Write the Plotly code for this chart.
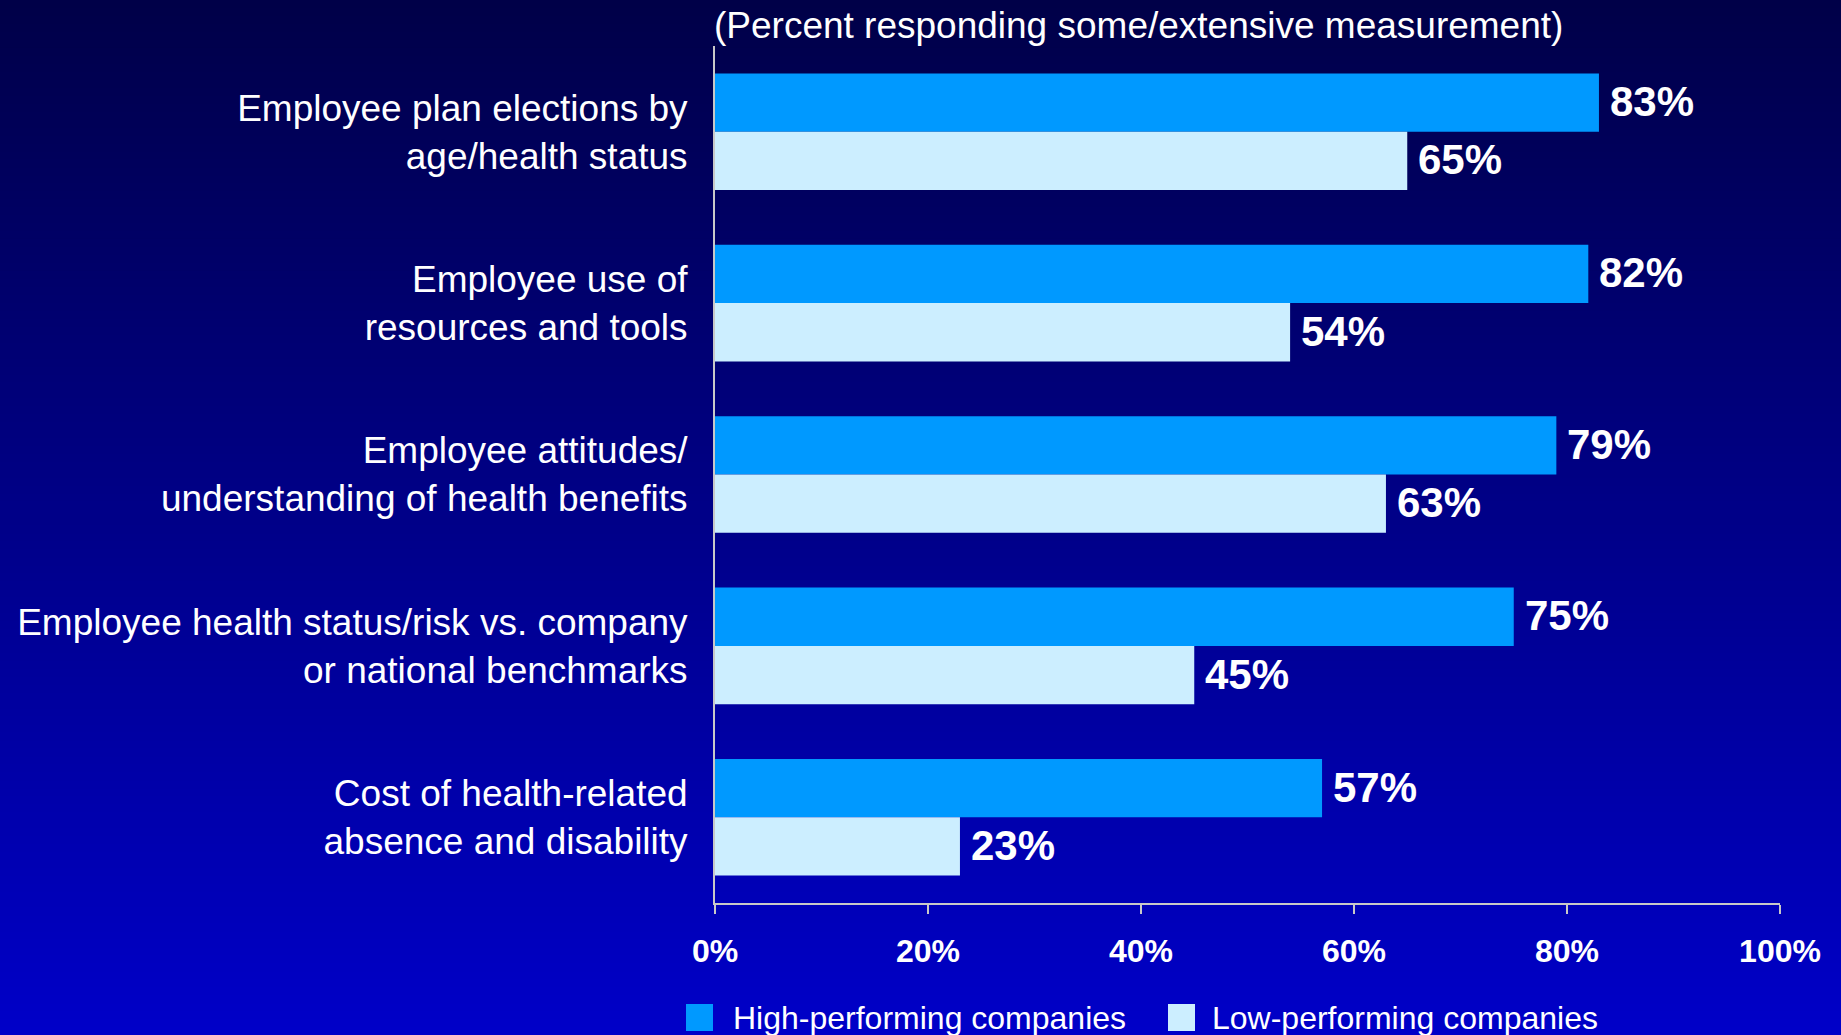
import plotly.graph_objects as go

# Measurement areas (top to bottom) and share of companies measuring each
categories = [
    "Employee plan elections by<br>age/health status",
    "Employee use of<br>resources and tools",
    "Employee attitudes/<br>understanding of health benefits",
    "Employee health status/risk vs. company<br>or national benchmarks",
    "Cost of health-related<br>absence and disability",
]
high_performing = [83, 82, 79, 75, 57]
low_performing = [65, 54, 63, 45, 23]
tick_values = [0, 20, 40, 60, 80, 100]
tick_labels = ["0%", "20%", "40%", "60%", "80%", "100%"]

series_names = ["High-performing companies", "Low-performing companies"]
series_colors = ["#0099FF", "#CCEEFF"]

W, H = 1841, 1035
L, R, T, B = 715, 61, 46, 132
PW, PH = W - L - R, H - T - B
FONT = "Arial, Liberation Sans, sans-serif"
AXIS_GREY = "#C8C8C8"
BARGAP = 0.32


def px_x(px):
    return (px - L) / PW


def px_y(py):
    return (H - B - py) / PH


fig = go.Figure()
for name, vals, col in zip(series_names, [high_performing, low_performing], series_colors):
    fig.add_trace(go.Bar(
        y=categories, x=vals, orientation="h", name=name,
        marker=dict(color=col, line=dict(width=0)),
        showlegend=False, hoverinfo="x+y",
    ))

# value labels just beyond the end of each bar
half = (1 - BARGAP) / 4
annotations = []
for i in range(len(categories)):
    for vals, off in ((high_performing, -half), (low_performing, half)):
        annotations.append(dict(
            x=vals[i], y=i + off, xref="x", yref="y",
            text=f"<b>{vals[i]}%</b>", showarrow=False,
            xanchor="left", yanchor="middle", xshift=9, yshift=1,
            font=dict(family=FONT, size=42, color="white"),
        ))

# subtitle above the plot
annotations.append(dict(
    x=0, y=px_y(25), xref="paper", yref="paper",
    text="(Percent responding some/extensive measurement)",
    showarrow=False, xanchor="left", yanchor="middle", xshift=-3,
    font=dict(family=FONT, size=37, color="white"),
))

shapes = []
# vertical background gradient from deep navy to royal blue
n_strips = 130
top_rgb, bot_rgb = (0, 0, 72), (0, 0, 200)
for k in range(n_strips):
    y0 = H * k / n_strips - (3 if k == 0 else 0)
    y1 = H * (k + 1) / n_strips + 1 + (4 if k == n_strips - 1 else 0)
    t = (k + 0.5) / n_strips
    c = tuple(round(a + (b - a) * t) for a, b in zip(top_rgb, bot_rgb))
    shapes.append(dict(
        type="rect", xref="paper", yref="paper", layer="below",
        x0=px_x(-10), x1=px_x(W + 10), y0=px_y(y1), y1=px_y(y0),
        fillcolor=f"rgb{c}", line=dict(width=0),
    ))

# legend: swatches and labels along the bottom
legend_items = [(686, 731), (1168, 1210)]
for (sx, tx), name, col in zip(legend_items, series_names, series_colors):
    shapes.append(dict(
        type="rect", xref="paper", yref="paper",
        x0=px_x(sx), x1=px_x(sx + 27), y0=px_y(1031), y1=px_y(1004),
        fillcolor=col, line=dict(width=0),
    ))
    annotations.append(dict(
        x=px_x(tx), y=px_y(1018), xref="paper", yref="paper",
        text=name, showarrow=False, xanchor="left", yanchor="middle",
        font=dict(family=FONT, size=32, color="white"),
    ))

fig.update_layout(
    width=W, height=H, autosize=False,
    margin=dict(l=L, r=R, t=T, b=B, pad=0),
    paper_bgcolor="#00006A", plot_bgcolor="rgba(0,0,0,0)",
    barmode="group", bargap=BARGAP, bargroupgap=0,
    font=dict(family=FONT, color="white"),
    shapes=shapes, annotations=annotations,
    xaxis=dict(
        range=[0, 100], tickvals=tick_values, ticktext=tick_labels,
        ticks="outside", ticklen=9, tickwidth=2, tickcolor=AXIS_GREY,
        showline=True, linecolor=AXIS_GREY, linewidth=2,
        showgrid=False, zeroline=False, fixedrange=True,
        tickfont=dict(family=FONT, size=32, color="white", weight="bold"),
        ticklabelstandoff=10,
    ),
    yaxis=dict(
        type="category", categoryorder="array", categoryarray=categories,
        range=[len(categories) - 0.5, -0.5],
        ticks="", showline=True, linecolor=AXIS_GREY, linewidth=2,
        showgrid=False, zeroline=False, fixedrange=True,
        tickfont=dict(family=FONT, size=37, color="white"),
        ticklabelstandoff=18,
    ),
)

fig.write_html("out.html", config=dict(displayModeBar=False))
